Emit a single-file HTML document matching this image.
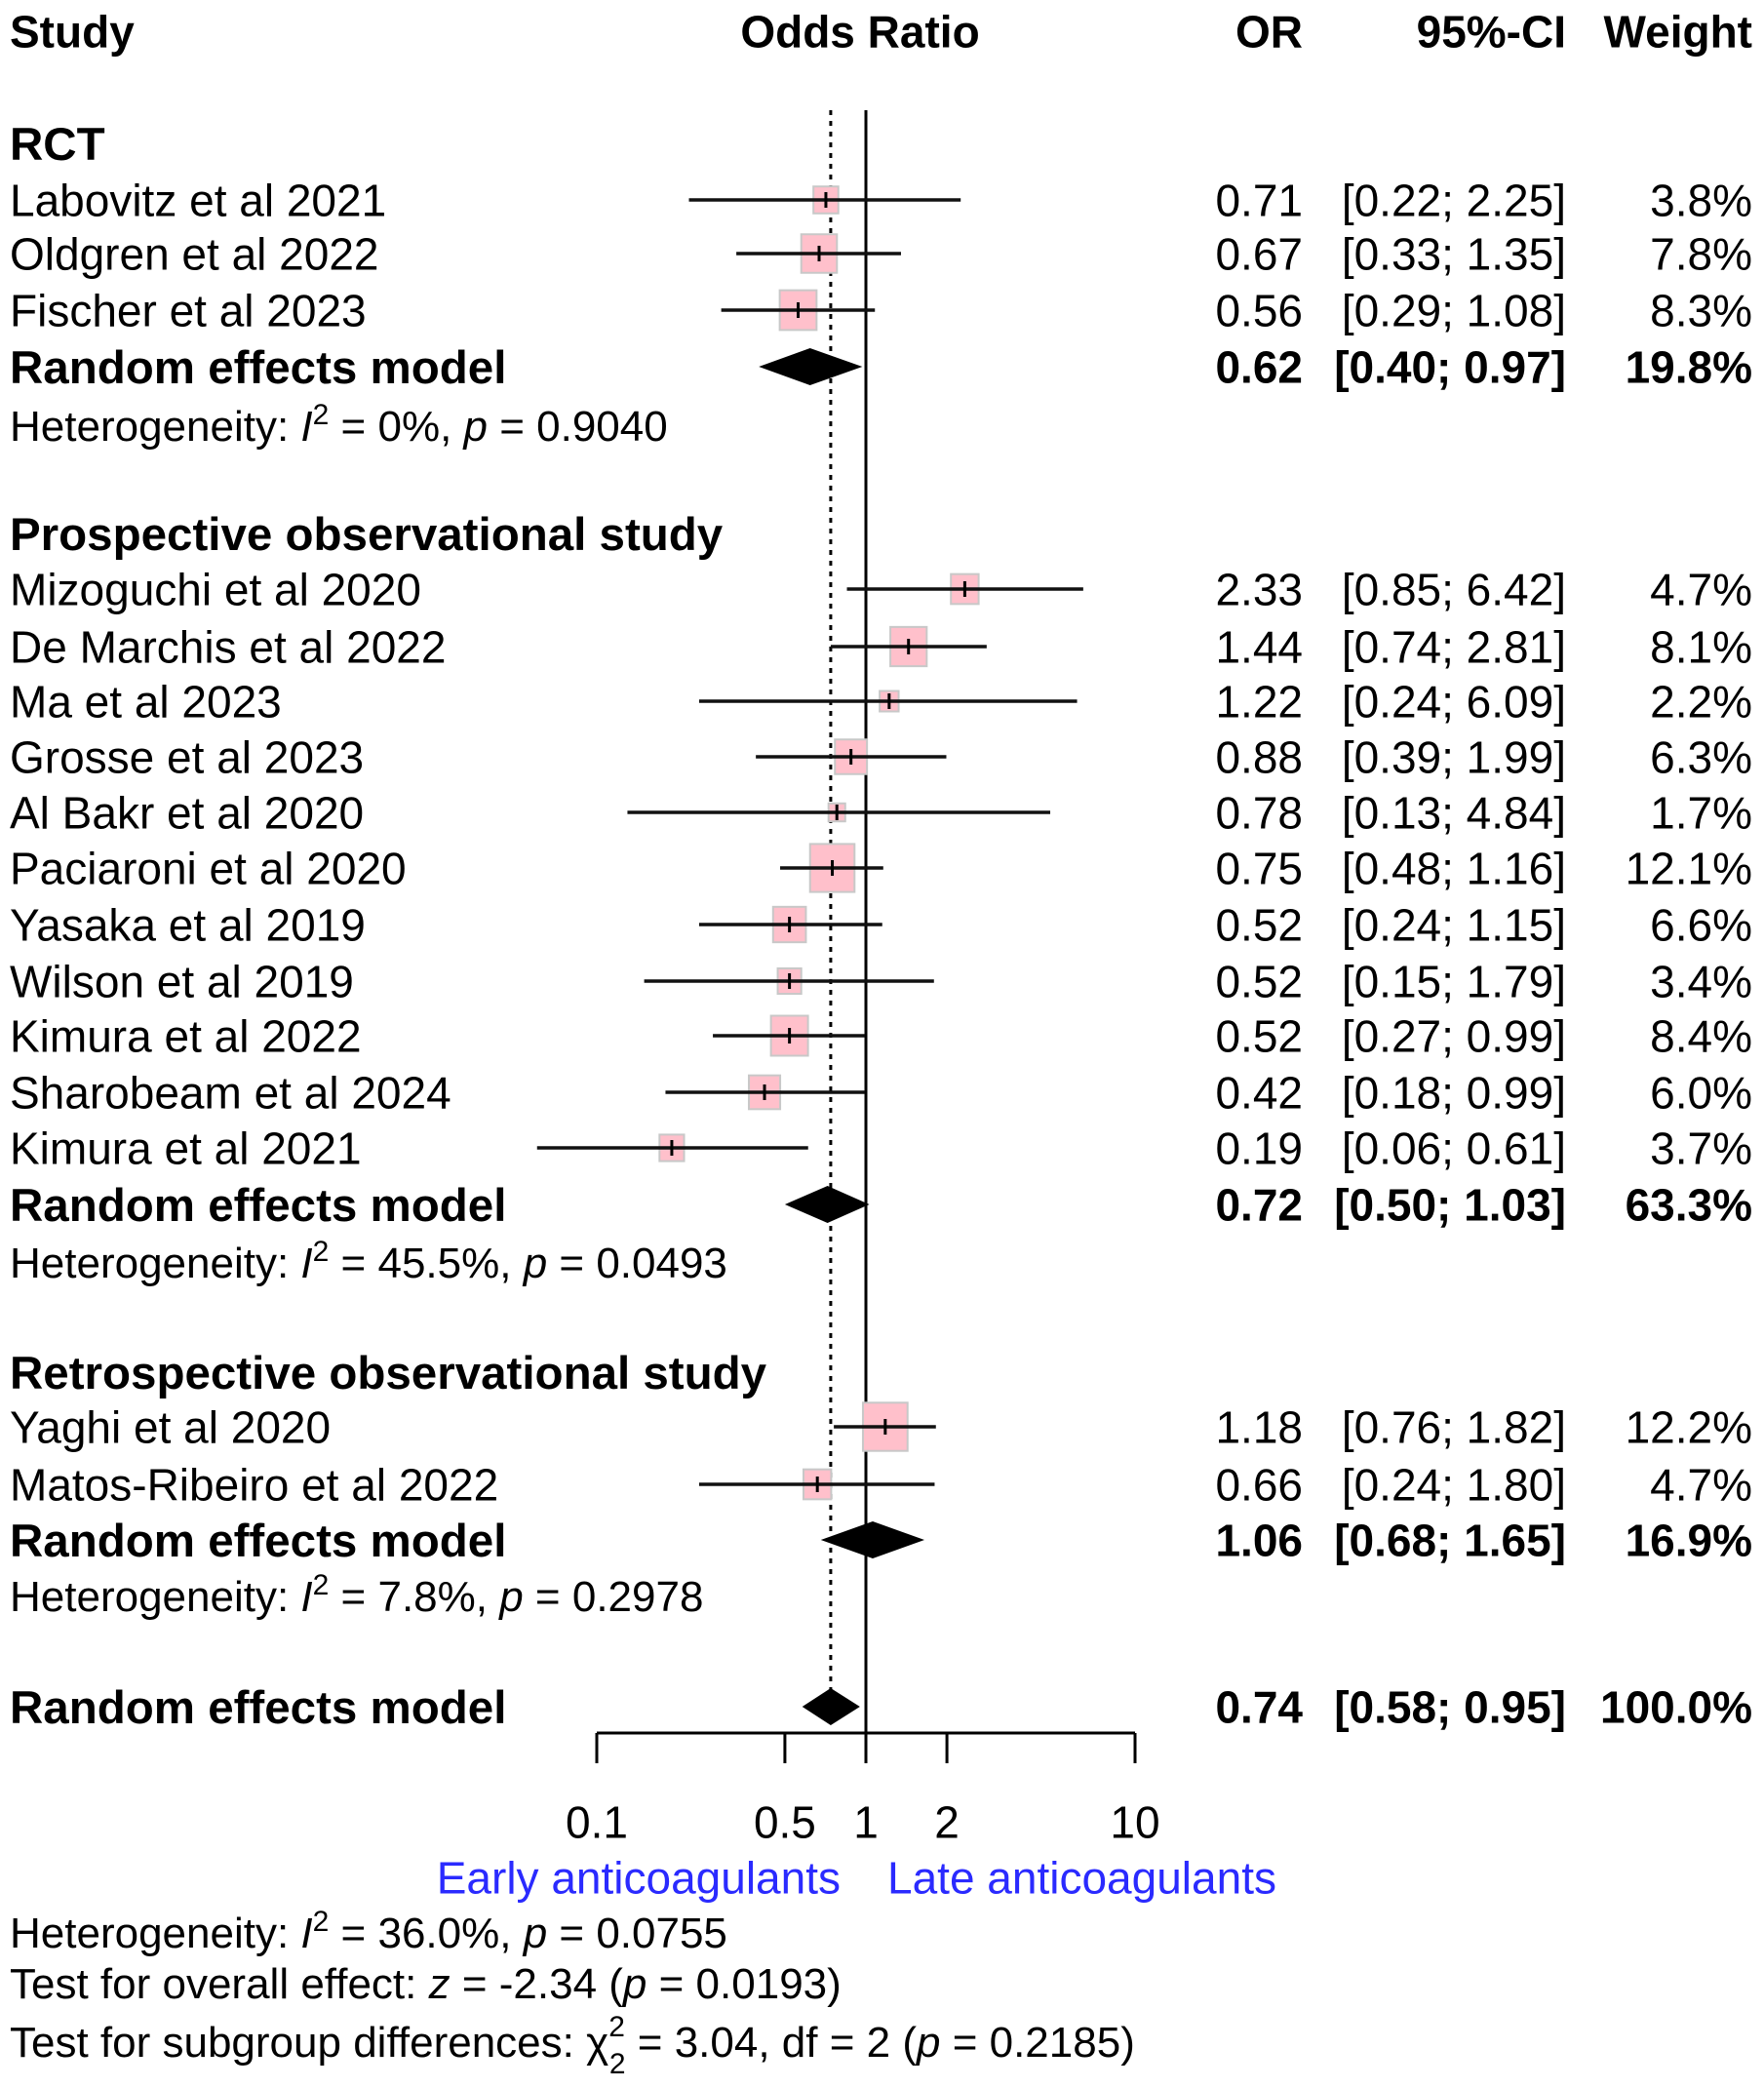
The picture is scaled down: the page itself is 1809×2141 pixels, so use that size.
<!DOCTYPE html>
<html><head><meta charset="utf-8"><title>Forest plot</title>
<style>
html,body{margin:0;padding:0;background:#fff;}
svg{display:block;font-family:"Liberation Sans",Arial,sans-serif;}
</style></head>
<body>
<svg id="chart" width="1809" height="2141" viewBox="0 0 1809 2141" xmlns="http://www.w3.org/2000/svg">
<rect width="1809" height="2141" fill="#fff"/>
<g id="texts"></g>
<g id="marks"></g>
</svg>
<script>
// ---- data ----
const studies = ["Labovitz et al 2021","Oldgren et al 2022","Fischer et al 2023",
 "Mizoguchi et al 2020","De Marchis et al 2022","Ma et al 2023","Grosse et al 2023","Al Bakr et al 2020","Paciaroni et al 2020","Yasaka et al 2019","Wilson et al 2019","Kimura et al 2022","Sharobeam et al 2024","Kimura et al 2021",
 "Yaghi et al 2020","Matos-Ribeiro et al 2022"];
const orValues = [0.71,0.67,0.56, 2.33,1.44,1.22,0.88,0.78,0.75,0.52,0.52,0.52,0.42,0.19, 1.18,0.66];
const lowerCI = [0.22,0.33,0.29, 0.85,0.74,0.24,0.39,0.13,0.48,0.24,0.15,0.27,0.18,0.06, 0.76,0.24];
const upperCI = [2.25,1.35,1.08, 6.42,2.81,6.09,1.99,4.84,1.16,1.15,1.79,0.99,0.99,0.61, 1.82,1.80];
const weights = [3.8,7.8,8.3, 4.7,8.1,2.2,6.3,1.7,12.1,6.6,3.4,8.4,6.0,3.7, 12.2,4.7];
const studyGroup = [0,0,0, 1,1,1,1,1,1,1,1,1,1,1, 2,2];
const groupNames = ["RCT","Prospective observational study","Retrospective observational study"];
const groupOR = [0.62,0.72,1.06];
const groupLower = [0.40,0.50,0.68];
const groupUpper = [0.97,1.03,1.65];
const groupWeight = [19.8,63.3,16.9];
const groupI2 = ["0%","45.5%","7.8%"];
const groupP = ["0.9040","0.0493","0.2978"];
const overall = [0.74,0.58,0.95];
const tickValues = [0.1,0.5,1,2,10];
const tickLabels = ["0.1","0.5","1","2","10"];

// ---- layout ----
const NS="http://www.w3.org/2000/svg";
const X0=888, PX_PER_DEC=276;
function xs(v){return X0+PX_PER_DEC*Math.log10(v);}
const studyY=[205,260,318, 604,663,719,776,833,890,948,1006,1062,1120,1177, 1463,1522];
const groupHeadY=[147,547,1407], groupRemY=[376,1235,1579], groupHetY=[436,1294,1636];
const overallY=1750, axisY=1777;
const T=document.getElementById('texts'), M=document.getElementById('marks');
function el(tag,attrs,parent){const e=document.createElementNS(NS,tag);for(const k in attrs)e.setAttribute(k,attrs[k]);parent.appendChild(e);return e;}
function txt(s,x,cy,size,opt){
  opt=opt||{};
  const t=el('text',{x:x,y:cy+size*0.36,'font-size':size,fill:opt.fill||'#000'},T);
  if(opt.bold)t.setAttribute('font-weight','bold');
  if(opt.anchor)t.setAttribute('text-anchor',opt.anchor);
  if(opt.html)t.innerHTML=s;else t.textContent=s;
  
  
  return t;
}
const FS=46, FB=47.5, FH=44;
const f2=v=>v.toFixed(2), fw=v=>v.toFixed(1)+'%';
// headers
txt("Study",10,32,FS,{bold:true,name:'study-header'});
txt("Odds Ratio",882,32,FS,{bold:true,anchor:'middle',name:'odds-ratio-header'});
txt("OR",1336,32,FS,{bold:true,anchor:'end',name:'or-header'});
txt("95%-CI",1606,32,FS,{bold:true,anchor:'end',name:'ci-header'});
txt("Weight",1797,32,FS,{bold:true,anchor:'end',name:'weight-header'});

// reference lines
const ref=el('line',{x1:X0,y1:113,x2:X0,y2:axisY,stroke:'#000','stroke-width':3},M);


const dot=el('line',{x1:xs(overall[0]),y1:113,x2:xs(overall[0]),y2:overallY-18,stroke:'#000','stroke-width':3,'stroke-dasharray':'5,6'},M);



// studies
studies.forEach((s,i)=>{
  const y=studyY[i];
  txt(s,10,y,FS,{name:'study-name'});
  txt(f2(orValues[i]),1336,y,FS,{anchor:'end',name:'study-or'});
  txt('['+f2(lowerCI[i])+'; '+f2(upperCI[i])+']',1606,y,FS,{anchor:'end',name:'study-ci'});
  txt(fw(weights[i]),1797,y,FS,{anchor:'end',name:'study-weight'});
  const w=13.1*Math.sqrt(weights[i]), h=w*1.08, cx=xs(orValues[i]);
  const b=el('rect',{x:cx-w/2,y:y-h/2,width:w,height:h,fill:'#ffc0cb',stroke:'#c8c8c8','stroke-width':2},M);
  
  
  const l=el('line',{x1:xs(lowerCI[i]),y1:y,x2:xs(upperCI[i]),y2:y,stroke:'#111','stroke-width':3.5},M);
  
  
  const tk=el('line',{x1:cx,y1:y-8,x2:cx,y2:y+8,stroke:'#000','stroke-width':3},M);
  
  
});
function diamond(o,lo,hi,y,name){
  const d=el('polygon',{points:`${xs(lo)},${y} ${xs(o)},${y-19} ${xs(hi)},${y} ${xs(o)},${y+19}`,fill:'#000'},M);
  
  
}
groupNames.forEach((g,k)=>{
  txt(g,10,groupHeadY[k],FB,{bold:true,name:'subgroup-title'});
  const y=groupRemY[k];
  txt("Random effects model",10,y,FB,{bold:true,name:'subgroup-model-label'});
  txt(f2(groupOR[k]),1336,y,FS,{bold:true,anchor:'end',name:'subgroup-or'});
  txt('['+f2(groupLower[k])+'; '+f2(groupUpper[k])+']',1606,y,FS,{bold:true,anchor:'end',name:'subgroup-ci'});
  txt(fw(groupWeight[k]),1797,y,FS,{bold:true,anchor:'end',name:'subgroup-weight'});
  diamond(groupOR[k],groupLower[k],groupUpper[k],y,'subgroup-diamond');
  txt('Heterogeneity: <tspan font-style="italic">I</tspan><tspan dy="-17" font-size="30">2</tspan><tspan dy="17"> = '+groupI2[k]+', </tspan><tspan font-style="italic">p</tspan> = '+groupP[k],10,groupHetY[k],FH,{html:true,name:'subgroup-heterogeneity'});
});
// overall
txt("Random effects model",10,overallY,FB,{bold:true,name:'overall-model-label'});
txt(f2(overall[0]),1336,overallY,FS,{bold:true,anchor:'end',name:'overall-or'});
txt('['+f2(overall[1])+'; '+f2(overall[2])+']',1606,overallY,FS,{bold:true,anchor:'end',name:'overall-ci'});
txt("100.0%",1797,overallY,FS,{bold:true,anchor:'end',name:'overall-weight'});
diamond(overall[0],overall[1],overall[2],overallY,'overall-diamond');

// axis
const ax=el('line',{x1:xs(tickValues[0]),y1:axisY,x2:xs(tickValues[tickValues.length-1]),y2:axisY,stroke:'#000','stroke-width':3},M);


tickValues.forEach((v,i)=>{
  const t=el('line',{x1:xs(v),y1:axisY,x2:xs(v),y2:axisY+31,stroke:'#000','stroke-width':3},M);
  
  
  txt(tickLabels[i],xs(v),1868,FS,{anchor:'middle',name:'x-tick-label'});
});
txt("Early anticoagulants",862,1925,FS,{anchor:'end',fill:'#2a2aff',name:'favours-early-label'});
txt("Late anticoagulants",910,1925,FS,{fill:'#2a2aff',name:'favours-late-label'});
txt('Heterogeneity: <tspan font-style="italic">I</tspan><tspan dy="-17" font-size="30">2</tspan><tspan dy="17"> = 36.0%, </tspan><tspan font-style="italic">p</tspan> = 0.0755',10,1981,FH,{html:true,name:'overall-heterogeneity'});
txt('Test for overall effect: <tspan font-style="italic">z</tspan> = -2.34 (<tspan font-style="italic">p</tspan> = 0.0193)',10,2033,FH,{html:true,name:'overall-effect-test'});
txt('Test for subgroup differences: χ<tspan dy="-21" font-size="30">2</tspan><tspan dx="-16" dy="38" font-size="30">2</tspan><tspan dy="-17"> = 3.04, df = 2 (</tspan><tspan font-style="italic">p</tspan> = 0.2185)',10,2093,FH,{html:true,name:'subgroup-differences-test'});
</script>
</body></html>
